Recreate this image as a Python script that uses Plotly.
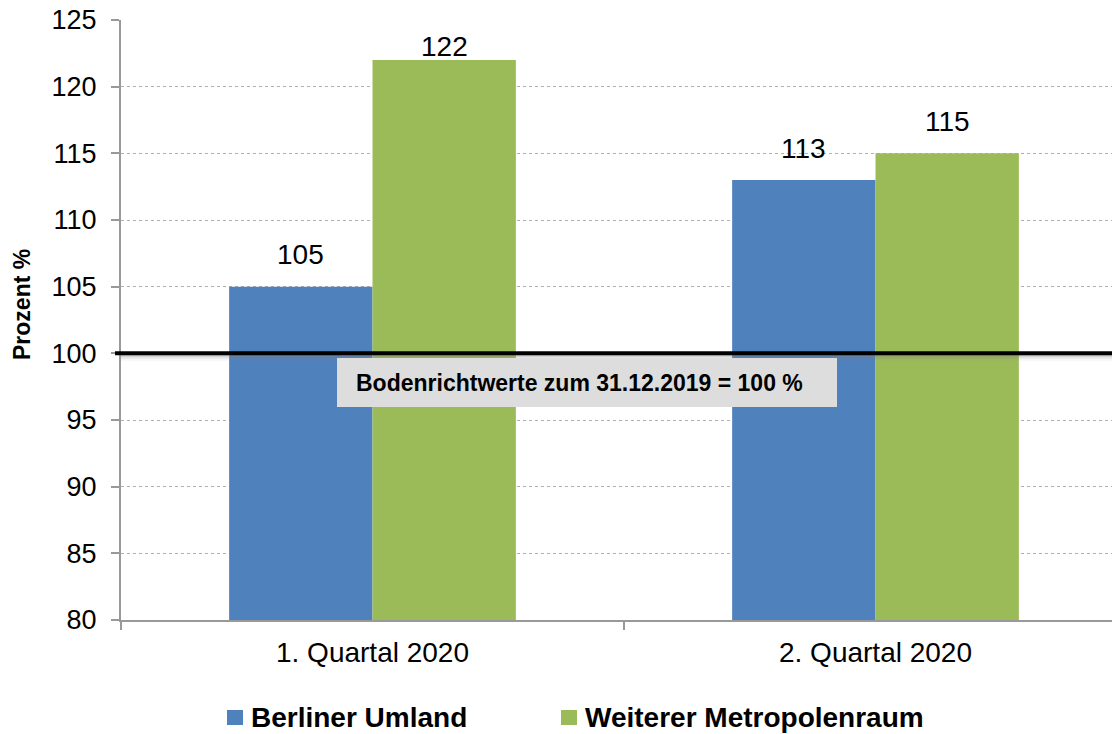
import plotly.graph_objects as go

categories = ["1. Quartal 2020", "2. Quartal 2020"]
series_names = ["Berliner Umland", "Weiterer Metropolenraum"]
berliner_umland = [105, 113]
weiterer_metropolenraum = [122, 115]
y_ticks = [80, 85, 90, 95, 100, 105, 110, 115, 120, 125]
reference_value = 100
reference_label = "Bodenrichtwerte zum 31.12.2019 = 100 %"
y_title = "Prozent %"

colors = ["#4F81BD", "#9BBB59"]
FONT = "Arial, Liberation Sans, sans-serif"

OFF = 8  # page body margin
L, T = 121 - OFF, 20 - OFF
PH = 600
B = 734 - T - PH
PW = 1120 - L


def px(xs):
    return (xs - OFF - L) / PW


def py(ys):
    return (T + PH - (ys - OFF)) / PH


fig = go.Figure()
for name, vals, col in zip(series_names, [berliner_umland, weiterer_metropolenraum], colors):
    fig.add_trace(go.Bar(
        x=categories, y=vals, name=name, marker=dict(color=col, line=dict(width=0)),
        hoverinfo="skip", showlegend=False,
    ))

# data labels
annotations = []
for vals, shift in zip([berliner_umland, weiterer_metropolenraum], [-72, 72]):
    for cat, v in zip(categories, vals):
        annotations.append(dict(
            x=cat, y=min(v + 2.4, 123.0), xref="x", yref="y", text=str(v),
            showarrow=False, xshift=shift, yanchor="middle",
            font=dict(size=28, color="#000000", family=FONT),
        ))

fig.update_layout(
    width=1120, height=734,
    margin=dict(l=L, r=0, t=T, b=B),
    paper_bgcolor="white", plot_bgcolor="white",
    barmode="group", bargap=0.43, bargroupgap=0,
    font=dict(family=FONT, size=27, color="#000000"),
    showlegend=False,
    annotations=annotations,
)

fig.update_xaxes(
    type="category", range=[-0.5, -0.5 + PW / 503], automargin=False,
    tickson="boundaries", ticks="outside", ticklen=8, tickcolor="#999999", tickwidth=2,
    showline=True, linecolor="#999999", linewidth=2, ticklabelstandoff=6,
    showgrid=False, tickfont=dict(size=28, family=FONT),
)
fig.update_yaxes(
    range=[80, 125.001], tickvals=y_ticks, automargin=False,
    ticks="outside", ticklen=8, tickcolor="#999999", tickwidth=2,
    showline=True, linecolor="#999999", linewidth=2,
    showgrid=True, gridcolor="#B0B0B0", gridwidth=1, griddash="dot",
    zeroline=False, tickfont=dict(size=27, family=FONT), ticklabelstandoff=9,
    ticklabeloverflow="allow",
)

# y-axis title
fig.add_annotation(x=px(22), y=py(305), xref="paper", yref="paper",
                   text="<b>" + y_title + "</b>", textangle=-90, showarrow=False,
                   xanchor="center", yanchor="middle",
                   font=dict(size=23, family=FONT, color="#000000"))

ref = reference_value
# shadow under the reference line
for dy, op in [(0.15, 0.35), (0.3, 0.22), (0.45, 0.12), (0.6, 0.06)]:
    fig.add_shape(type="rect", xref="paper", yref="y", x0=0, x1=1,
                  y0=ref - dy, y1=ref - 0.1, fillcolor="#808080", opacity=op,
                  line=dict(width=0), layer="above")
fig.add_shape(type="line", xref="paper", yref="y", x0=px(115), x1=1, y0=ref, y1=ref,
              line=dict(color="#000000", width=4), layer="above")
# label box
fig.add_shape(type="rect", xref="paper", yref="paper",
              x0=px(337), x1=px(837), y0=py(407), y1=py(358),
              fillcolor="#DDDDDD", line=dict(width=0), layer="above")
fig.add_annotation(x=px(579), y=py(383), xref="paper", yref="paper",
                   text="<b>" + reference_label + "</b>", showarrow=False,
                   font=dict(size=23, family=FONT, color="#000000"))

# legend (drawn manually for marker size control)
legend_x = [227, 561]
for name, col, lx in zip(series_names, colors, legend_x):
    fig.add_shape(type="rect", xref="paper", yref="paper",
                  x0=px(lx), x1=px(lx + 16), y0=py(725), y1=py(710),
                  fillcolor=col, line=dict(width=0))
    fig.add_annotation(x=px(lx + 22), y=py(717), xref="paper", yref="paper",
                       xanchor="left", yanchor="middle", showarrow=False,
                       text="<b>" + name + "</b>",
                       font=dict(size=28, family=FONT, color="#000000"))

fig.write_html("out.html")
